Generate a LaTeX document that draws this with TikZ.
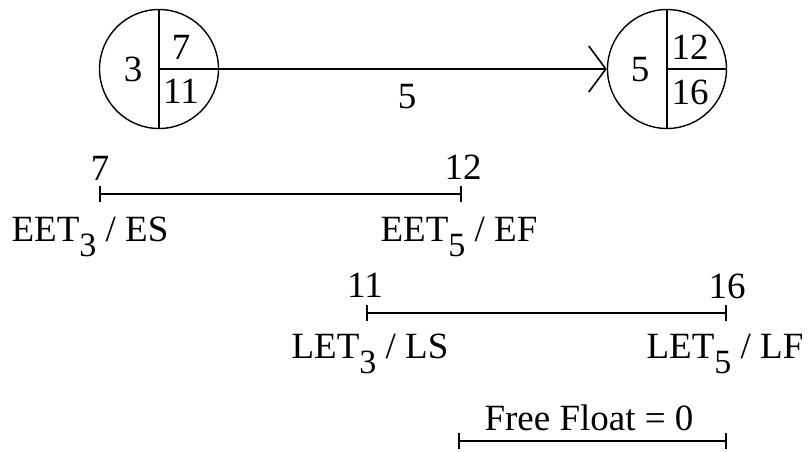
\documentclass[tikz,border=0pt]{standalone}
\usepackage{fontspec}
\setmainfont{Liberation Serif}
\usepackage{tikz}
\usetikzlibrary{positioning}
\usetikzlibrary{arrows.meta}

\newcommand{\lowsub}[1]{\raisebox{-15pt}{\fontsize{34}{34}\selectfont #1}}

\begin{document}
\begin{tikzpicture}[
                x=1pt, y=-1pt,
                line width=1.6pt,
                every node/.style={font=\fontsize{37}{40}\selectfont, inner sep=0pt},
                evt/.style={circle, draw, line width=1.4pt, minimum size=119pt},
                arr/.style={-{Straight Barb[length=17pt, width=46pt]}},
                span/.style={{Bar[width=16pt]}-{Bar[width=16pt]}}
            ]
            \useasboundingbox (0,0) rectangle (812,451);
            % Nodes
            \node[evt] (ev3) at (159,69) {};
            \node[evt] (ev5) at (667,69) {};
            \node (id3) at (133,69) {3};
            \node (ee3) at (181,47) {7};
            \node (le3) at (181,91) {11};
            \node (id5) at (640,70) {5};
            \node (ee5) at (690,47) {12};
            \node (le5) at (690,92) {16};
            \node (dur) at (407,97) {5};
            % Bars
            \coordinate (es) at (99,194);
            \coordinate (ef) at (462,194);
            \coordinate (ls) at (366,313);
            \coordinate (lf) at (727,313);
            \coordinate (fs) at (458,441);
            \coordinate (ff) at (727,441);
            \node (esv) at (100,168) {7};
            \node (efv) at (463,167) {12};
            \node (lsv) at (365,285) {11};
            \node (lfv) at (727,286) {16};
            \node[anchor=base] (esl) at (90,241) {EET\lowsub{3} / ES};
            \node[anchor=base] (efl) at (459,241) {EET\lowsub{5} / EF};
            \node[anchor=base] (lsl) at (370,358) {LET\lowsub{3} / LS};
            \node[anchor=base] (lfl) at (725,358) {LET\lowsub{5} / LF};
            \node[anchor=base] (fft) at (589,430) {Free Float = 0};
            % Lines
            \draw (ev3.north) -- (ev3.south);
            \draw (ev3.center) -- (ev3.east);
            \draw (ev5.north) -- (ev5.south);
            \draw (ev5.center) -- (ev5.east);
            \draw[arr] (ev3.east) -- (ev5.west);
            \draw[span] (es) -- (ef);
            \draw[span] (ls) -- (lf);
            \draw[span] (fs) -- (ff);
            
            \end{tikzpicture}
\end{document}
